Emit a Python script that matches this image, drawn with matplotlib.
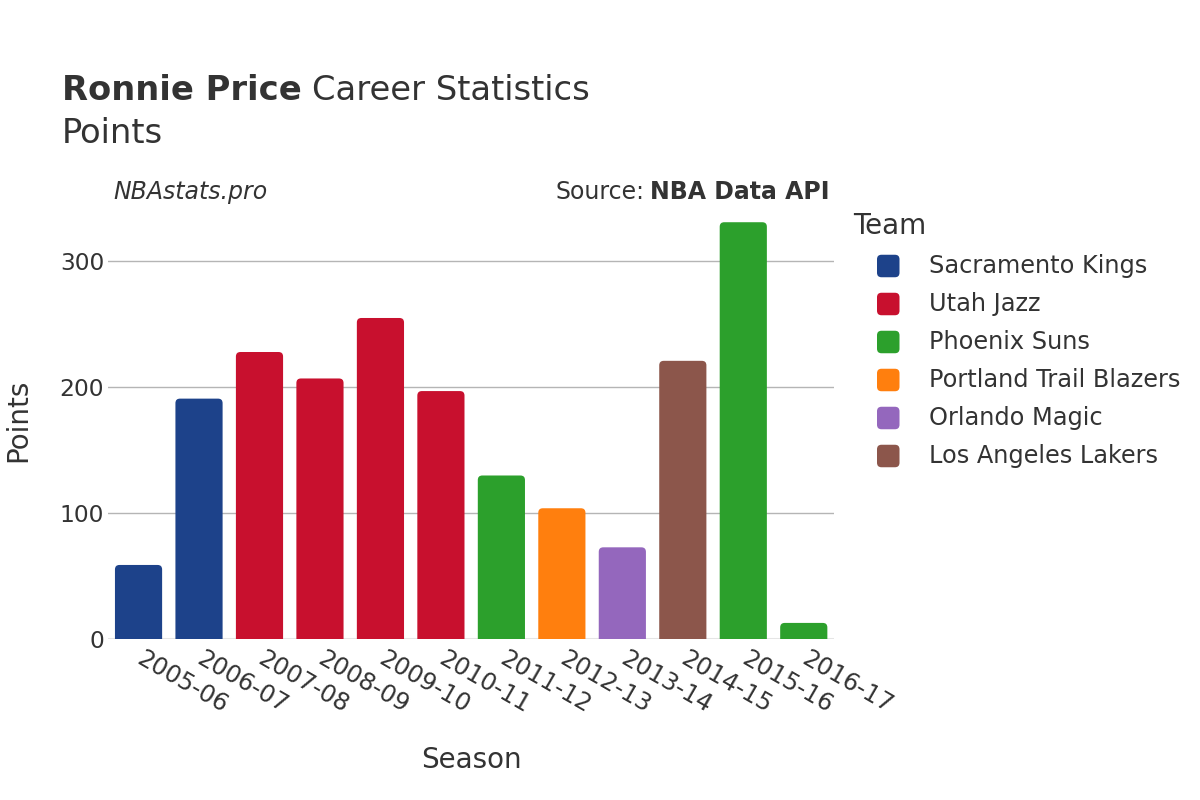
import matplotlib
matplotlib.use("Agg")
import matplotlib.pyplot as plt
from matplotlib.patches import FancyBboxPatch

seasons = ["2005-06", "2006-07", "2007-08", "2008-09", "2009-10", "2010-11",
           "2011-12", "2012-13", "2013-14", "2014-15", "2015-16", "2016-17"]
points = [59, 191, 228, 207, 255, 197, 130, 104, 73, 221, 331, 13]
season_team = ["Sacramento Kings", "Sacramento Kings", "Utah Jazz", "Utah Jazz",
               "Utah Jazz", "Utah Jazz", "Phoenix Suns", "Portland Trail Blazers",
               "Orlando Magic", "Los Angeles Lakers", "Phoenix Suns", "Phoenix Suns"]
teams = ["Sacramento Kings", "Utah Jazz", "Phoenix Suns", "Portland Trail Blazers",
         "Orlando Magic", "Los Angeles Lakers"]
team_colors = {
    "Sacramento Kings": "#1D428A",
    "Utah Jazz": "#C8102E",
    "Phoenix Suns": "#2CA02C",
    "Portland Trail Blazers": "#FF7F0E",
    "Orlando Magic": "#9467BD",
    "Los Angeles Lakers": "#8C564B",
}
yticks = [0, 100, 200, 300]

TXT = "#333333"
plt.rcParams['font.family'] = ['DejaVu Sans']

W, H = 1200, 800
fig = plt.figure(figsize=(12, 8), dpi=100)
ax_l, ax_r, ax_b, ax_t = 108.3, 834.0, 639.3, 200.8
ax = fig.add_axes([ax_l / W, 1 - ax_b / H, (ax_r - ax_l) / W, (ax_b - ax_t) / H])

xs = list(range(len(seasons)))
cols = [team_colors[t] for t in season_team]
bw = 0.78
ax.set_xlim(-0.5, len(seasons) - 0.5)
ax.set_ylim(0, 348)

rects = ax.bar(xs, points, width=bw, color=cols, zorder=3)
# convert rectangles to rounded-corner boxes
px_w = ax_r - ax_l
px_h = ax_b - ax_t
x_per_px = (len(seasons)) / px_w
y_per_px = 348 / px_h
r_px = 4.5
rx = r_px * x_per_px
asp = y_per_px / x_per_px
for rect in rects:
    x0 = rect.get_x()
    w = rect.get_width()
    h = rect.get_height()
    c = rect.get_facecolor()
    rect.remove()
    ry = r_px * y_per_px
    p = FancyBboxPatch((x0, -ry), w, h + ry,
                       boxstyle=f"round,pad=0,rounding_size={rx}",
                       mutation_aspect=asp, facecolor=c, edgecolor='none',
                       zorder=3, clip_on=True)
    ax.add_patch(p)

ax.set_yticks(yticks)
ax.yaxis.grid(True, color='#b5b5b5', linewidth=1.0, zorder=0)
ax.set_axisbelow(True)
ax.axhline(0, color='#e5e5e5', linewidth=2.2, zorder=2)
for s in ax.spines.values():
    s.set_visible(False)
ax.tick_params(axis='y', length=0, pad=3, labelsize=16.8, labelcolor=TXT)
ax.set_xticks(xs)
ax.set_xticklabels(seasons, rotation=-30, ha='left', va='center',
                   rotation_mode='anchor')
ax.tick_params(axis='x', length=0, pad=13, labelsize=17.3, labelcolor=TXT)

# titles
t1 = fig.text(62 / W, 1 - 100 / H, "Ronnie Price", fontsize=24.3, color=TXT,
              va='baseline', ha='left', fontweight='bold')
fig.canvas.draw()
bb = t1.get_window_extent()
fig.text(bb.x1 / W + 10 / W, 1 - 100 / H, "Career Statistics", fontsize=24.3,
         color=TXT, va='baseline', ha='left')
fig.text(62 / W, 1 - 143 / H, "Points", fontsize=24.3, color=TXT,
         va='baseline', ha='left')

fig.text(113 / W, 1 - 199 / H, "NBAstats.pro", fontsize=17, color=TXT,
         style='italic', va='baseline', ha='left')
s2 = fig.text(830 / W, 1 - 199 / H, "NBA Data API", fontsize=17, color=TXT,
              fontweight='bold', va='baseline', ha='right')
fig.canvas.draw()
bb2 = s2.get_window_extent()
fig.text(bb2.x0 / W - 6 / W, 1 - 199 / H, "Source:", fontsize=17, color=TXT,
         va='baseline', ha='right')

# axis titles
fig.text(18 / W, 1 - 420 / H, "Points", fontsize=20, color=TXT, rotation=90,
         va='center', ha='center')
fig.text(471 / W, 1 - 760 / H, "Season", fontsize=20, color=TXT,
         va='center', ha='center')

# legend (manual)
fig.text(853 / W, 1 - 226 / H, "Team", fontsize=20, color=TXT,
         va='center', ha='left')
row0 = 266
step = 38
sq = 22.5
for i, t in enumerate(teams):
    cy = row0 + i * step
    patch = FancyBboxPatch(((877) / W, 1 - (cy + sq / 2) / H), sq / W, sq / H,
                           boxstyle=f"round,pad=0,rounding_size={4.5 / W}",
                           mutation_aspect=W / H,
                           transform=fig.transFigure, facecolor=team_colors[t],
                           edgecolor='none')
    fig.add_artist(patch)
    fig.text(929 / W, 1 - cy / H, t, fontsize=17.3, color=TXT,
             va='center', ha='left')

fig.savefig("out.png", dpi=100)
